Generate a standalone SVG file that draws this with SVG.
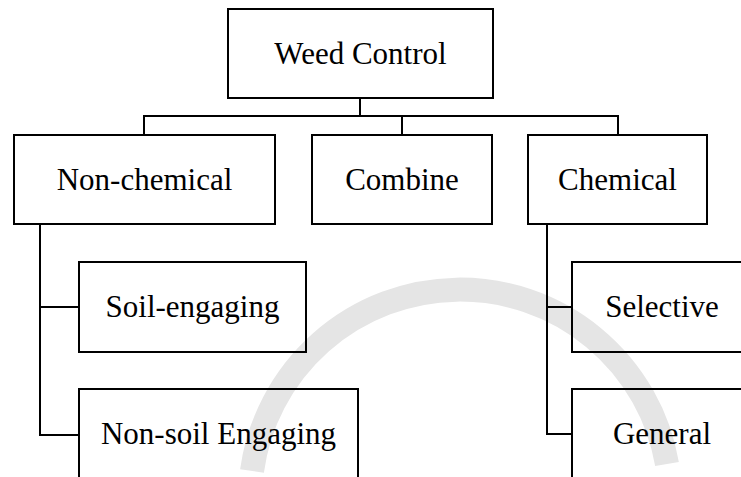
<svg xmlns="http://www.w3.org/2000/svg" width="741" height="477" viewBox="0 0 741 477">
<style>
.box{fill:none;stroke:#000;stroke-width:2}
.lbl{font-family:"Liberation Serif","Times New Roman",serif;font-size:31px;fill:#000;text-anchor:middle}
.wire{fill:none;stroke:#000;stroke-width:2}
.wm{fill:none;stroke:#e5e5e5;stroke-width:24}
</style>
<rect width="741" height="477" fill="#fff"/>
<path class="wm" d="M252,471 A210,210 0 0 1 667,464"/>
<g id="connectors">
<path class="wire" d="M360,98 V116 M144,135 V116 H618 V135 M402,116 V135"/>
<path class="wire" d="M40,224 V435 H79 M40,307 H79"/>
<path class="wire" d="M547,224 V434 H572 M547,307 H572"/>
</g>
<g id="weed-control"><rect class="box" x="228" y="9" width="265" height="89"/><text class="lbl" x="360.5" y="63.5">Weed Control</text></g>
<g id="non-chemical"><rect class="box" x="14" y="135" width="261" height="89"/><text class="lbl" x="144.5" y="190">Non-chemical</text></g>
<g id="combine"><rect class="box" x="312" y="135" width="180" height="89"/><text class="lbl" x="402" y="190">Combine</text></g>
<g id="chemical"><rect class="box" x="528" y="135" width="179" height="89"/><text class="lbl" x="617.5" y="190">Chemical</text></g>
<g id="soil-engaging"><rect class="box" x="79" y="262" width="227" height="90"/><text class="lbl" x="192.5" y="317">Soil-engaging</text></g>
<g id="non-soil-engaging"><rect class="box" x="79" y="389" width="279" height="95"/><text class="lbl" x="218.5" y="444">Non-soil Engaging</text></g>
<g id="selective"><rect class="box" x="572" y="262" width="180" height="90"/><text class="lbl" x="662" y="317">Selective</text></g>
<g id="general"><rect class="box" x="572" y="389" width="180" height="95"/><text class="lbl" x="662" y="444">General</text></g>
</svg>
